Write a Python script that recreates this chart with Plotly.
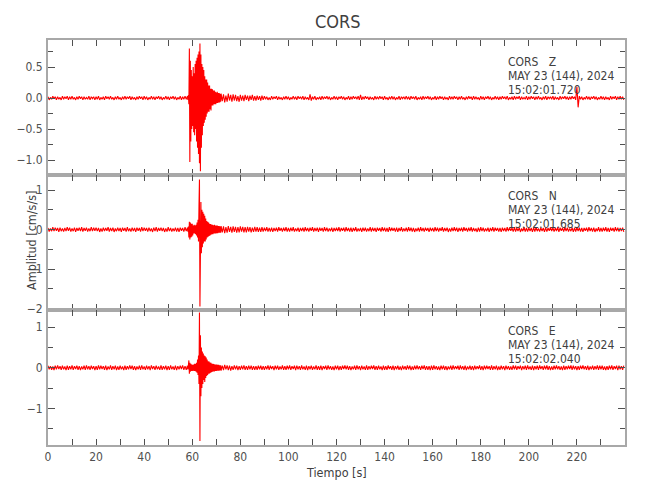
import numpy as np
import plotly.graph_objects as go
from plotly.subplots import make_subplots

# ---------------- data, amplitudes in 0.01 cm/s/s ----------------
# sampling of each segment: (start time [s], step [s])
PRE = (0.0, 0.5)      # pre-event noise
BURST = (58.0, 0.2)   # main arrivals
CODA = (72.0, 0.5)    # coda
POST = (90.0, 0.5)    # post-event noise

z_pre = [2,-3,1,-2,3,-1,2,-3,2,-2,1,-3,3,-2,2,-1,3,-3,2,-2,
         3,-2,1,-3,2,-2,3,-1,2,-3,2,-2,1,-2,3,-3,2,-1,2,-3,
         2,-2,3,-3,1,-2,2,-3,3,-1,2,-2,3,-2,1,-3,2,-2,3,-2,
         1,-3,2,-2,3,-2,2,-1,3,-3,2,-2,1,-3,2,-2,3,-1,2,-3,
         3,-2,2,-3,1,-2,3,-2,2,-3,2,-1,3,-2,2,-3,1,-2,3,-2,
         2,-3,2,-1,3,-2,2,-3,1,-2,3,-3,2,-2,3,-2]
z_burst = [3,-3,5,-10,80,-103,60,-70,45,-50,
           35,-45,50,-55,40,-60,55,-50,60,-70,
           65,-80,70,-90,75,-105,88,-118,70,-80,
           55,-60,50,-45,45,-40,35,-35,30,-30,
           30,-25,25,-22,20,-22,20,-18,15,-20,
           15,-12,14,-12,12,-10,12,-10,10,-10,
           9,-8,10,-8,8,-7,8,-7,7,-6]
z_coda = [7,-5,6,-7,4,-6,7,-4,5,-6,
          6,-4,5,-5,3,-6,5,-4,4,-5,
          5,-3,4,-5,4,-3,5,-4,3,-4,
          4,-3,3,-4,4,-3]
z_post = [3,-2,2,-3,1,-3,3,-2,2,-1,3,-3,2,-2,1,-3,2,-2,3,-2,
          2,-3,1,-2,3,-2,2,-3,3,-1,2,-2,3,-3,2,-2,1,-3,6,-4,
          2,-2,3,-3,1,-2,2,-3,3,-2,2,-1,3,-2,2,-3,1,-2,3,-2,
          2,-3,2,-1,3,-2,2,-3,1,-2,3,-3,2,-2,3,-1,2,-2,3,-3,
          5,-3,2,-2,3,-1,2,-3,2,-2,1,-3,3,-2,2,-2,3,-1,2,-3,
          3,-2,1,-3,2,-2,3,-2,2,-3,1,-2,3,-3,2,-1,2,-2,3,-2,
          2,-3,3,-1,2,-2,3,-3,1,-2,2,-3,3,-2,2,-1,3,-2,2,-3,
          1,-2,3,-3,2,-2,3,-1,2,-3,2,-2,1,-3,3,-2,2,-2,3,-1,
          2,-3,2,-2,3,-2,1,-3,2,-2,3,-1,2,-3,3,-2,2,-2,1,-3,
          3,-2,2,-3,2,-1,3,-2,2,-3,1,-2,3,-2,2,-3,2,-2,3,-1,
          2,-2,3,-3,1,-2,2,-3,3,-2,2,-1,3,-3,2,-2,1,-2,3,-3,
          2,-2,3,-1,2,-3,2,-2,3,-2,1,-3,2,-2,3,-3,2,-1,2,-2,
          3,-3,2,-2,1,-3,3,-2,2,-1,3,-2,2,-3,2,-2,3,-1,2,-3,
          18,-15,3,-2,2,-3,1,-2,3,-2,2,-3,2,-1,3,-2,2,-3,1,-2,
          3,-2,2,-3,2,-2,1,-3,3,-2,2,-1,3,-3,2,-2,3,-2,2,-3]

n_pre = [4,-5,3,-4,6,-4,5,-3,4,-6,5,-4,3,-5,4,-4,6,-3,5,-5,
         3,-4,5,-6,4,-3,5,-4,6,-5,4,-3,5,-5,3,-4,6,-4,5,-3,
         5,-4,4,-6,3,-5,5,-4,4,-3,6,-5,4,-4,5,-6,3,-4,5,-4,
         4,-6,5,-3,4,-5,6,-4,3,-5,5,-4,4,-6,5,-3,4,-5,6,-4,
         5,-3,4,-5,5,-4,3,-6,5,-4,6,-5,4,-3,5,-4,4,-6,3,-5,
         6,-4,4,-5,3,-4,5,-5,4,-6,5,-3,4,-5,6,-4]
n_burst = [5,-5,8,-20,20,-25,18,-20,15,-18,
           15,-15,10,-10,12,-10,10,-12,12,-15,
           18,-20,25,-30,60,127,-195,-90,70,-60,
           50,-45,45,-35,40,-30,35,-30,28,-25,
           22,-20,20,-18,18,-16,15,-15,14,-13,
           13,-12,12,-12,11,-10,12,-10,10,-10,
           10,-9,10,-9,9,-8,9,-8,8,-8]
n_coda = [9,-7,8,-9,6,-8,9,-6,7,-8,
          8,-6,7,-8,6,-7,8,-5,7,-7,
          6,-7,7,-5,6,-7,5,-6,7,-5,
          6,-6,5,-6,6,-5]
n_post = [5,-4,6,-5,4,-5,5,-6,4,-4,5,-5,6,-3,4,-5,5,-4,6,-5,
          4,-5,5,-4,6,-5,3,-4,5,-6,4,-4,5,-5,6,-4,4,-5,5,-3,
          6,-5,4,-4,5,-6,5,-3,4,-5,6,-4,5,-5,3,-4,5,-6,4,-4,
          5,-4,6,-5,4,-3,5,-5,6,-4,4,-5,5,-6,4,-4,6,-5,3,-4,
          4,-6,5,-4,5,-5,3,-4,6,-5,5,-4,4,-6,5,-3,4,-5,6,-4,
          5,-5,4,-6,6,-4,5,-3,4,-5,5,-6,4,-4,6,-5,3,-4,5,-5,
          6,-4,5,-5,4,-6,3,-4,5,-5,6,-4,4,-5,5,-3,4,-6,5,-4,
          4,-5,6,-4,5,-5,4,-3,6,-5,4,-4,5,-6,3,-5,5,-4,6,-4,
          5,-6,4,-4,5,-5,6,-3,4,-5,5,-4,6,-5,4,-4,3,-6,5,-5,
          6,-4,5,-5,3,-4,5,-6,4,-4,6,-5,5,-3,4,-5,4,-6,5,-4,
          4,-5,6,-4,5,-3,4,-5,6,-5,4,-4,5,-6,3,-4,6,-5,4,-5,
          5,-4,4,-6,5,-5,6,-4,3,-5,5,-4,4,-6,5,-5,4,-3,6,-4,
          5,-5,4,-4,6,-6,5,-3,4,-5,6,-4,5,-5,3,-4,5,-6,4,-5,
          6,-4,5,-5,4,-6,4,-3,5,-5,6,-4,4,-5,5,-6,3,-4,6,-5,
          4,-5,5,-4,6,-5,4,-6,5,-3,4,-5,6,-4,5,-5,4,-4,5,-6]

e_pre = [5,-4,4,-5,3,-6,5,-4,6,-3,4,-5,5,-4,3,-6,5,-5,4,-4,
         6,-5,4,-3,5,-5,4,-6,3,-4,5,-5,6,-4,4,-5,5,-3,4,-6,
         4,-5,6,-4,5,-3,4,-5,5,-6,3,-4,6,-5,4,-4,5,-6,3,-5,
         5,-4,3,-6,5,-5,4,-4,6,-3,5,-5,4,-6,3,-4,5,-5,6,-4,
         3,-5,5,-4,4,-6,6,-3,4,-5,5,-4,3,-5,6,-5,4,-4,5,-6,
         4,-5,6,-4,3,-5,5,-6,4,-4,5,-3,6,-5,4,-5]
e_burst = [5,-4,6,18,-15,12,-10,10,-8,8,
           -8,7,-7,8,-8,10,-8,10,-10,12,
           -12,20,-18,30,-40,136,-180,80,-70,50,
           -50,40,-40,35,-30,30,-35,28,-25,25,
           -20,20,-18,16,-15,15,-14,13,-12,12,
           -11,10,-10,10,-9,9,-9,8,-8,8,
           -8,8,-7,7,-7,7,-7,6,-6,6]
e_coda = [-7,5,-6,7,-4,6,-6,5,-7,4,
          -5,6,-4,5,-6,4,-5,5,-4,6,
          -5,4,-5,5,-4,5,-5,4,-5,4,
          -5,5,-4,5,-5,4]
e_post = [-5,4,-4,6,-5,5,-3,4,-6,5,-4,5,-5,3,-4,6,-5,4,-5,5,
          -4,6,-5,4,-3,5,-6,5,-4,4,-5,6,-4,3,-5,5,-6,4,-4,5,
          -5,3,-4,6,-5,4,-5,5,-6,4,-3,5,-5,6,-4,4,-5,3,-6,5,
          -4,5,-6,4,-5,5,-3,6,-4,5,-5,4,-6,3,-4,5,-5,6,-4,4,
          -6,5,-4,3,-5,6,-5,4,-4,5,-3,6,-5,4,-5,5,-4,3,-6,5,
          -5,4,-5,6,-3,4,-5,5,-6,4,-4,5,-5,3,-6,5,-4,4,-5,6,
          -4,5,-6,3,-5,5,-4,6,-4,4,-5,5,-3,6,-5,4,-5,4,-6,5,
          -5,6,-4,4,-5,3,-6,5,-4,5,-5,4,-6,3,-4,5,-5,6,-4,4,
          -3,5,-5,6,-4,4,-5,5,-6,3,-4,5,-5,4,-6,5,-4,4,-3,6,
          -5,4,-6,5,-4,5,-3,4,-5,6,-5,4,-4,5,-6,3,-5,5,-4,4,
          -6,5,-4,4,-5,3,-5,6,-4,5,-5,4,-3,5,-6,4,-4,5,-5,6,
          -4,3,-5,5,-6,4,-4,5,-5,6,-3,4,-5,5,-4,6,-5,4,-6,3,
          -5,5,-4,6,-4,4,-5,3,-6,5,-5,4,-4,5,-3,6,-5,5,-4,4,
          -6,4,-5,5,-3,6,-4,4,-5,5,-6,3,-4,5,-5,4,-4,6,-5,5,
          -4,5,-5,3,-6,4,-5,5,-4,6,-5,4,-3,5,-6,5,-4,4,-5,5]

UNIT = 0.01  # stored values are hundredths of cm/s/s

station = "CORS"
components = ["Z", "N", "E"]
date_label = "MAY 23 (144), 2024"
start_times = ["15:02:01.720", "15:02:01.685", "15:02:02.040"]
y_ranges = [[-1.24, 0.935], [-2.04, 1.385], [-1.9, 1.42]]
y_dticks = [0.5, 1, 1]
y_formats = [".1f", "d", "d"]
x_range = [0, 240]
x_ticks = [0, 20, 40, 60, 80, 100, 120, 140, 160, 180, 200, 220]
x_title = "Tiempo [s]"
y_title = "Amplitud [cm/s/s]"

segments = {
    "Z": [z_pre, z_burst, z_coda, z_post],
    "N": [n_pre, n_burst, n_coda, n_post],
    "E": [e_pre, e_burst, e_coda, e_post],
}


def build(comp):
    ts, vs = [], []
    for (start, step), vals in zip([PRE, BURST, CODA, POST], segments[comp]):
        ts.append(np.round(start + step * np.arange(len(vals)), 3))
        vs.append(np.array(vals, dtype=float) * UNIT)
    return np.concatenate(ts), np.concatenate(vs)


# ---------------- figure ----------------
FONT = "DejaVu Sans Condensed, DejaVu Sans, sans-serif"
AXIS_GRAY = "#a8a8a8"
TICK_GRAY = "#505050"
TEXT_GRAY = "#404040"

# page has an 8 px body margin; geometry below is in page pixels
PAGE_OFF = 8
FIG_W, FIG_H = 650 - PAGE_OFF, 500 - PAGE_OFF
PLOT_TOP, PLOT_BOTTOM, PLOT_LEFT, PLOT_RIGHT = 40, 445, 48, 625
H = PLOT_BOTTOM - PLOT_TOP
W = PLOT_RIGHT - PLOT_LEFT

fig = make_subplots(rows=3, cols=1, shared_xaxes=True, vertical_spacing=0)

for i, comp in enumerate(components):
    t, v = build(comp)
    fig.add_trace(go.Scatter(x=t, y=v, mode="lines",
                             line=dict(color="#ff0000", width=1.1),
                             showlegend=False, hoverinfo="skip"),
                  row=i + 1, col=1)
    fig.update_yaxes(range=y_ranges[i], dtick=y_dticks[i], tick0=0,
                     tickformat=y_formats[i],
                     ticks="inside", ticklen=7, tickwidth=1, tickcolor=TICK_GRAY,
                     minor=dict(dtick=y_dticks[i] / 2, ticks="inside", ticklen=5,
                                tickcolor=TICK_GRAY, showgrid=False),
                     showline=True, linecolor=AXIS_GRAY, linewidth=2, mirror="ticks",
                     showgrid=False, zeroline=False,
                     tickfont=dict(family=FONT, size=12, color=TICK_GRAY),
                     ticklabelstandoff=1,
                     row=i + 1, col=1)
    fig.update_xaxes(range=x_range, tickvals=x_ticks,
                     ticks="inside", ticklen=6, tickwidth=1, tickcolor=TICK_GRAY,
                     minor=dict(dtick=10, tick0=0, ticks="inside", ticklen=6,
                                tickcolor=TICK_GRAY, showgrid=False),
                     showline=True, linecolor=AXIS_GRAY, linewidth=2, mirror="ticks",
                     showgrid=False, zeroline=False,
                     showticklabels=(i == 2),
                     tickfont=dict(family=FONT, size=12, color=TICK_GRAY),
                     row=i + 1, col=1)

# station / date / time labels
block_y_px = [(62, 76, 90), (196, 210, 224), (331, 345, 359)]
text_x = (506 - PLOT_LEFT) / W
annotations = []
for i, comp in enumerate(components):
    lines = [station + "\u00a0\u00a0\u00a0" + comp, date_label, start_times[i]]
    for ln, ypx in zip(lines, block_y_px[i]):
        annotations.append(dict(text=ln, xref="paper", yref="paper",
                                x=text_x, y=(PLOT_BOTTOM - ypx) / H,
                                xanchor="left", yanchor="middle", showarrow=False,
                                font=dict(family=FONT, size=12, color=TEXT_GRAY)))
annotations.append(dict(text=y_title, xref="paper", yref="paper",
                        x=(31 - PLOT_LEFT) / W, y=(PLOT_BOTTOM - 240) / H,
                        xanchor="center", yanchor="middle", textangle=-90,
                        showarrow=False,
                        font=dict(family=FONT, size=12.5, color=TEXT_GRAY)))
annotations.append(dict(text=x_title, xref="paper", yref="paper",
                        x=(336 - PLOT_LEFT) / W, y=(PLOT_BOTTOM - 472) / H,
                        xanchor="center", yanchor="middle", showarrow=False,
                        font=dict(family=FONT, size=12.5, color=TEXT_GRAY)))
annotations.append(dict(text=station, xref="paper", yref="paper",
                        x=(338 - PLOT_LEFT) / W, y=(PLOT_BOTTOM - 22) / H,
                        xanchor="center", yanchor="middle", showarrow=False,
                        font=dict(family=FONT, size=18, color=TEXT_GRAY)))

fig.update_layout(width=FIG_W, height=FIG_H,
                  margin=dict(l=PLOT_LEFT - PAGE_OFF, r=FIG_W - (PLOT_RIGHT - PAGE_OFF),
                              t=PLOT_TOP - PAGE_OFF, b=FIG_H - (PLOT_BOTTOM - PAGE_OFF),
                              autoexpand=False),
                  paper_bgcolor="white", plot_bgcolor="white",
                  annotations=annotations, showlegend=False)

fig.write_html("out.html")
